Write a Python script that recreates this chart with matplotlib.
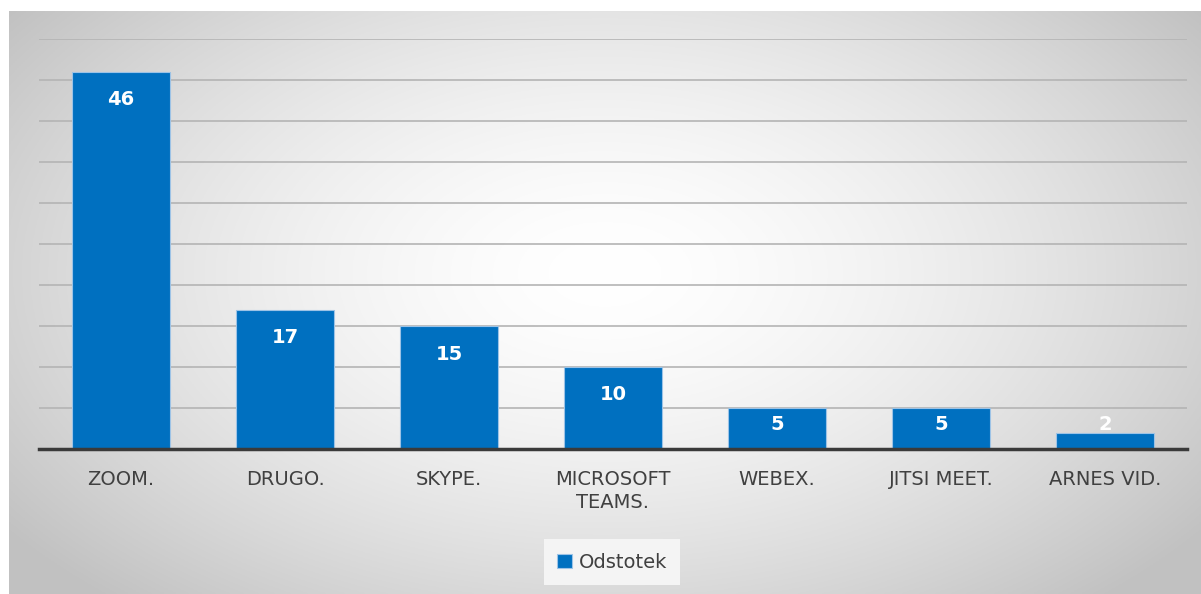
import numpy as np
import matplotlib
matplotlib.use("Agg")
import matplotlib.pyplot as plt

# Data
categories = ["ZOOM.", "DRUGO.", "SKYPE.", "MICROSOFT\nTEAMS.", "WEBEX.", "JITSI MEET.", "ARNES VID."]
values = [46, 17, 15, 10, 5, 5, 2]
series_name = "Odstotek"

bar_color = "#0070C0"
text_color = "#404040"
plt.rcParams["font.family"] = ["DejaVu Sans"]

W, H = 1201, 594
fig = plt.figure(figsize=(W / 100, H / 100), dpi=100)
fig.patch.set_facecolor("white")

# radial gradient background panel
bg = fig.add_axes([9 / W, 0, 1 - 9 / W, (H - 11) / H])
yy, xx = np.mgrid[0:1:300j, 0:1:600j]
r = np.sqrt(((xx - 0.5) / 0.62) ** 2 + ((yy - 0.55) / 0.75) ** 2)
r = np.clip(r, 0, 1)
shade = 1.0 - 0.24 * r ** 1.6
bg.imshow(np.dstack([shade] * 3), aspect="auto", extent=[0, 1, 0, 1], origin="lower")
bg.axis("off")

ax = fig.add_axes([39 / W, (H - 449) / H, (1187 - 39) / W, (449 - 39) / H])
ax.patch.set_alpha(0)
x = np.arange(len(categories))
bars = ax.bar(x, values, width=0.6, color=bar_color, edgecolor="#9dc3e6", linewidth=0.8, zorder=3)

ax.set_xlim(-0.5, len(categories) - 0.5)
ax.set_ylim(0, 50)
ax.set_yticks(np.arange(5, 51, 5))
ax.yaxis.grid(True, color="#b4b4b4", linewidth=1.2, zorder=0)
ax.tick_params(axis="y", length=0, labelleft=False)
ax.tick_params(axis="x", length=0, pad=15)
ax.set_xticks(x)
ax.set_xticklabels(categories, fontsize=14, color=text_color, linespacing=1.3)
for s in ["top", "right", "left"]:
    ax.spines[s].set_visible(False)
ax.spines["bottom"].set_color("#3a3a3a")
ax.spines["bottom"].set_linewidth(2.5)
ax.spines["bottom"].set_zorder(4)

# data labels: inside near top, pushed outside when the bar is too short
px_per_unit = (449 - 39) / 50
for b, v in zip(bars, values):
    cx = b.get_x() + b.get_width() / 2
    off_px = min(28, v * px_per_unit - 25)
    ax.annotate(str(v), (cx, v), xytext=(0, -off_px * 0.72), textcoords="offset points",
                ha="center", va="center", color="white", fontsize=14, fontweight="bold", zorder=5)

leg = fig.legend([bars[0]], [series_name], loc="center", bbox_to_anchor=(612 / W, (H - 562) / H),
                 frameon=True, fontsize=14, handlelength=0.75, handleheight=0.75, handletextpad=0.35,
                 borderpad=0.7, borderaxespad=0)
leg.get_frame().set_facecolor("#f4f4f4")
leg.get_frame().set_edgecolor("none")
leg.get_frame().set_boxstyle("square", pad=0)
leg.get_frame().set_alpha(1)
for t in leg.get_texts():
    t.set_color(text_color)

fig.savefig("out.png", dpi=100)
